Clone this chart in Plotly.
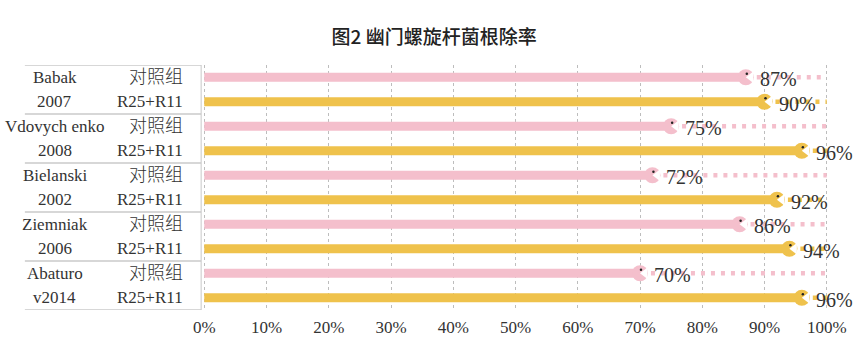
import plotly.graph_objects as go

# ---- data ----
study_names = ["Babak", "Vdovych enko", "Bielanski", "Ziemniak", "Abaturo"]
study_years = ["2007", "2008", "2002", "2006", "v2014"]
group_labels = ["对照组", "R25+R11"]
control_rates = [87, 75, 72, 86, 70]
treat_rates = [90, 96, 92, 94, 96]
x_ticks = [0, 10, 20, 30, 40, 50, 60, 70, 80, 90, 100]
title_text = "图2 幽门螺旋杆菌根除率"

PINK = "#f4bfcc"
YELLOW = "#efc24c"
SERIF = "Liberation Serif, 'Noto Sans CJK SC', serif"
PX = 1 / 625.0          # one pixel in x data units
PY = 1 / 24.56          # one pixel in y data units

fig = go.Figure()

series = [
    (control_rates, [2 * i for i in range(len(study_names))], PINK),
    (treat_rates, [2 * i + 1 for i in range(len(study_names))], YELLOW),
]

for rates, rows, color in series:
    vals = [r / 100 for r in rates]
    # bar
    fig.add_trace(go.Bar(x=vals, y=rows, orientation="h", width=0.37,
                         marker=dict(color=color, line=dict(width=0)),
                         hoverinfo="skip", showlegend=False))
    # dotted remainder to 100%
    dx, dy = [], []
    for v, r in zip(vals, rows):
        dx += [v + 11 * PX, 1.0, None]
        dy += [r, r, None]
    fig.add_trace(go.Scatter(x=dx, y=dy, mode="lines",
                             line=dict(color=color, width=4.5, dash="4px,6px"),
                             hoverinfo="skip", showlegend=False, cliponaxis=False))
    # pac-man body
    fig.add_trace(go.Scatter(x=vals, y=rows, mode="markers",
                             marker=dict(symbol="circle", size=16, color=color,
                                         line=dict(width=0)),
                             hoverinfo="skip", showlegend=False, cliponaxis=False))
    # mouth
    fig.add_trace(go.Scatter(x=[v + 5 * PX for v in vals], y=rows, mode="markers",
                             marker=dict(symbol="triangle-left", size=10, color="white",
                                         line=dict(width=0)),
                             hoverinfo="skip", showlegend=False, cliponaxis=False))
    # eye
    fig.add_trace(go.Scatter(x=[v + 1 * PX for v in vals], y=[r - 3.5 * PY for r in rows],
                             mode="markers",
                             marker=dict(symbol="circle", size=2.5, color="#222"),
                             hoverinfo="skip", showlegend=False, cliponaxis=False))
    # value labels
    for v, r, raw in zip(vals, rows, rates):
        fig.add_annotation(x=v, y=r, xref="x", yref="y", text=f"{raw}%",
                           showarrow=False, xanchor="left", yanchor="middle",
                           xshift=12, yshift=-2,
                           font=dict(family=SERIF, size=20, color="#333"))

# ---- left table ----
shapes = []
for k in range(len(study_names) + 1):
    yb = 2 * k - 0.5
    shapes.append(dict(type="line", xref="paper", yref="y",
                       x0=-0.285, x1=-0.003, y0=yb, y1=yb,
                       line=dict(color="#b0b0b0", width=1.2)))
shapes.append(dict(type="line", xref="paper", yref="y",
                   x0=-0.003, x1=-0.003, y0=-0.5, y1=2 * len(study_names) - 0.5,
                   line=dict(color="#c8c8c8", width=1)))

for i, (name, year) in enumerate(zip(study_names, study_years)):
    for j, txt in enumerate([name, year]):
        fig.add_annotation(x=-0.237, y=2 * i + j, xref="paper", yref="y",
                           text=txt, showarrow=False, xanchor="center",
                           yanchor="middle",
                           font=dict(family=SERIF, size=17, color="#333"))
    for j, g in enumerate(group_labels):
        fig.add_annotation(x=-0.029, y=2 * i + j, xref="paper", yref="y",
                           text=g, showarrow=False, xanchor="right",
                           yanchor="middle",
                           font=dict(family=SERIF, size=18 if j == 0 else 17,
                                     color="#333", weight=300))

fig.update_layout(
    width=863, height=353,
    margin=dict(l=203, r=35, t=65, b=43),
    paper_bgcolor="white", plot_bgcolor="white",
    barmode="overlay", barcornerradius=5,
    shapes=shapes,
    title=dict(text=title_text, x=0.503, xanchor="center", y=0.895, yanchor="middle",
               font=dict(family="'Noto Sans CJK SC', sans-serif", size=19,
                         color="#222", weight=500)),
    xaxis=dict(range=[-0.002, 1.002], tickvals=[t / 100 for t in x_ticks],
               ticktext=[f"{t}%" for t in x_ticks], showgrid=True,
               gridcolor="#bdbdbd", griddash="dot", gridwidth=1,
               zeroline=False, showline=False, ticks="", ticklabelstandoff=5,
               tickfont=dict(family=SERIF, size=17, color="#333")),
    yaxis=dict(range=[2 * len(study_names) - 0.5, -0.5], showticklabels=False,
               showgrid=False, zeroline=False, showline=False, ticks=""),
)

fig.write_html("out.html")
